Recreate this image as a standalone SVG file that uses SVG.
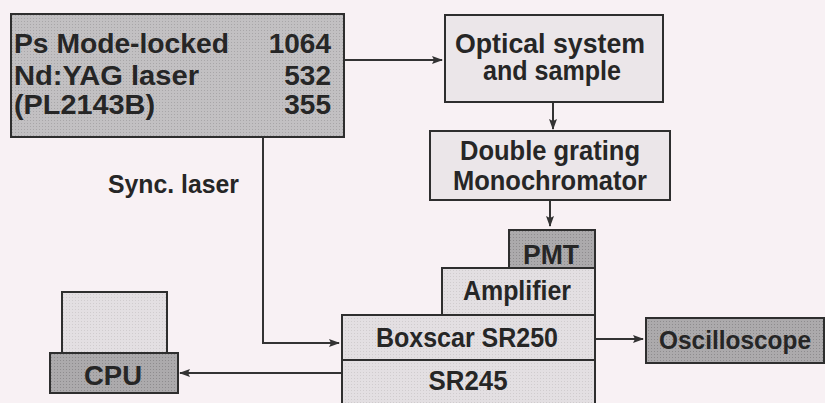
<svg xmlns="http://www.w3.org/2000/svg" width="825" height="403" viewBox="0 0 825 403">
<defs>
<marker id="ah" markerWidth="11" markerHeight="8" refX="10" refY="4" orient="auto" markerUnits="userSpaceOnUse">
<path d="M0,0 L11,4 L0,8 L2,4 z" fill="#333"/>
</marker>
<pattern id="dots" width="3" height="3" patternUnits="userSpaceOnUse">
<rect width="3" height="3" fill="#acaaac"/>
<rect width="1" height="1" fill="#8e8c8e"/>
</pattern>
<pattern id="dotsL" width="3" height="3" patternUnits="userSpaceOnUse">
<rect width="3" height="3" fill="#c2c0c2"/>
<rect width="1" height="1" fill="#a8a6a8"/>
</pattern>
<pattern id="dots2" width="3" height="3" patternUnits="userSpaceOnUse">
<rect width="3" height="3" fill="#e3dfe2"/>
<rect width="1" height="1" fill="#d0ccce"/>
</pattern>
</defs>
<style>
.dark{fill:url(#dots);stroke:#2e2e2e;stroke-width:2}
.mid{fill:url(#dotsL);stroke:#2e2e2e;stroke-width:2}
.light{fill:url(#dots2);stroke:#2e2e2e;stroke-width:2}
.plain{fill:#ebe6e9;stroke:#2e2e2e;stroke-width:2}
text{font-family:"Liberation Sans",Arial,sans-serif;font-weight:bold;fill:#262626}
.t{font-size:27px}
.L{font-size:28px}
.c{text-anchor:middle}
.r{text-anchor:end}
.conn{stroke:#333;stroke-width:2;fill:none}
</style>
<rect width="825" height="403" fill="#f8f1f4"/>
<g id="laser">
<rect class="mid" x="11" y="14" width="333" height="123"/>
<text class="L" x="14" y="53" textLength="215" lengthAdjust="spacingAndGlyphs">Ps Mode-locked</text>
<text class="L" x="14" y="85" textLength="185" lengthAdjust="spacingAndGlyphs">Nd:YAG laser</text>
<text class="L" x="14" y="114" textLength="141" lengthAdjust="spacingAndGlyphs">(PL2143B)</text>
<text class="L r" x="331" y="53">1064</text>
<text class="L r" x="331" y="85">532</text>
<text class="L r" x="331" y="114">355</text>
</g>
<g id="optical">
<rect class="plain" x="445" y="15" width="218" height="87"/>
<text class="t c" x="550" y="53" textLength="190" lengthAdjust="spacingAndGlyphs">Optical system</text>
<text class="t c" x="552" y="80" textLength="138" lengthAdjust="spacingAndGlyphs">and sample</text>
</g>
<g id="monochromator">
<rect class="plain" x="430" y="131" width="240" height="69"/>
<text class="t c" x="550" y="160" textLength="180" lengthAdjust="spacingAndGlyphs">Double grating</text>
<text class="t c" x="550" y="190" textLength="194" lengthAdjust="spacingAndGlyphs">Monochromator</text>
</g>
<g id="pmt">
<rect class="dark" x="509" y="230" width="86" height="38"/>
<text class="t c" x="551" y="264" textLength="56" lengthAdjust="spacingAndGlyphs">PMT</text>
</g>
<g id="amplifier">
<rect class="light" x="442" y="268" width="153" height="47"/>
<text class="t c" x="517" y="300" textLength="108" lengthAdjust="spacingAndGlyphs">Amplifier</text>
</g>
<g id="boxscar">
<rect class="light" x="342" y="315" width="253" height="45"/>
<text class="t c" x="467" y="347" textLength="182" lengthAdjust="spacingAndGlyphs">Boxscar SR250</text>
</g>
<g id="sr245">
<rect class="light" x="342" y="360" width="253" height="50"/>
<text class="t c" x="468" y="390" textLength="79" lengthAdjust="spacingAndGlyphs">SR245</text>
</g>
<g id="oscilloscope">
<rect class="dark" x="646" y="318" width="178" height="45"/>
<text x="659" y="349" font-size="25" textLength="152" lengthAdjust="spacingAndGlyphs">Oscilloscope</text>
</g>
<g id="cpu">
<rect class="light" x="62" y="292" width="105" height="61"/>
<rect class="dark" x="50" y="353" width="128" height="40"/>
<text class="t c" x="113" y="385" textLength="58" lengthAdjust="spacingAndGlyphs">CPU</text>
</g>
<g id="label-sync">
<text x="108" y="193" font-size="25" textLength="131" lengthAdjust="spacingAndGlyphs">Sync. laser</text>
</g>
<g id="connectors">
<line class="conn" x1="345" y1="60" x2="442" y2="60" marker-end="url(#ah)"/>
<line class="conn" x1="553" y1="103" x2="553" y2="129" marker-end="url(#ah)"/>
<line class="conn" x1="550" y1="201" x2="550" y2="226" marker-end="url(#ah)"/>
<polyline class="conn" points="263,138 263,343 339,343" marker-end="url(#ah)"/>
<line class="conn" x1="596" y1="339" x2="643" y2="339" marker-end="url(#ah)"/>
<line class="conn" x1="341" y1="373" x2="180" y2="373" marker-end="url(#ah)"/>
</g>
</svg>
